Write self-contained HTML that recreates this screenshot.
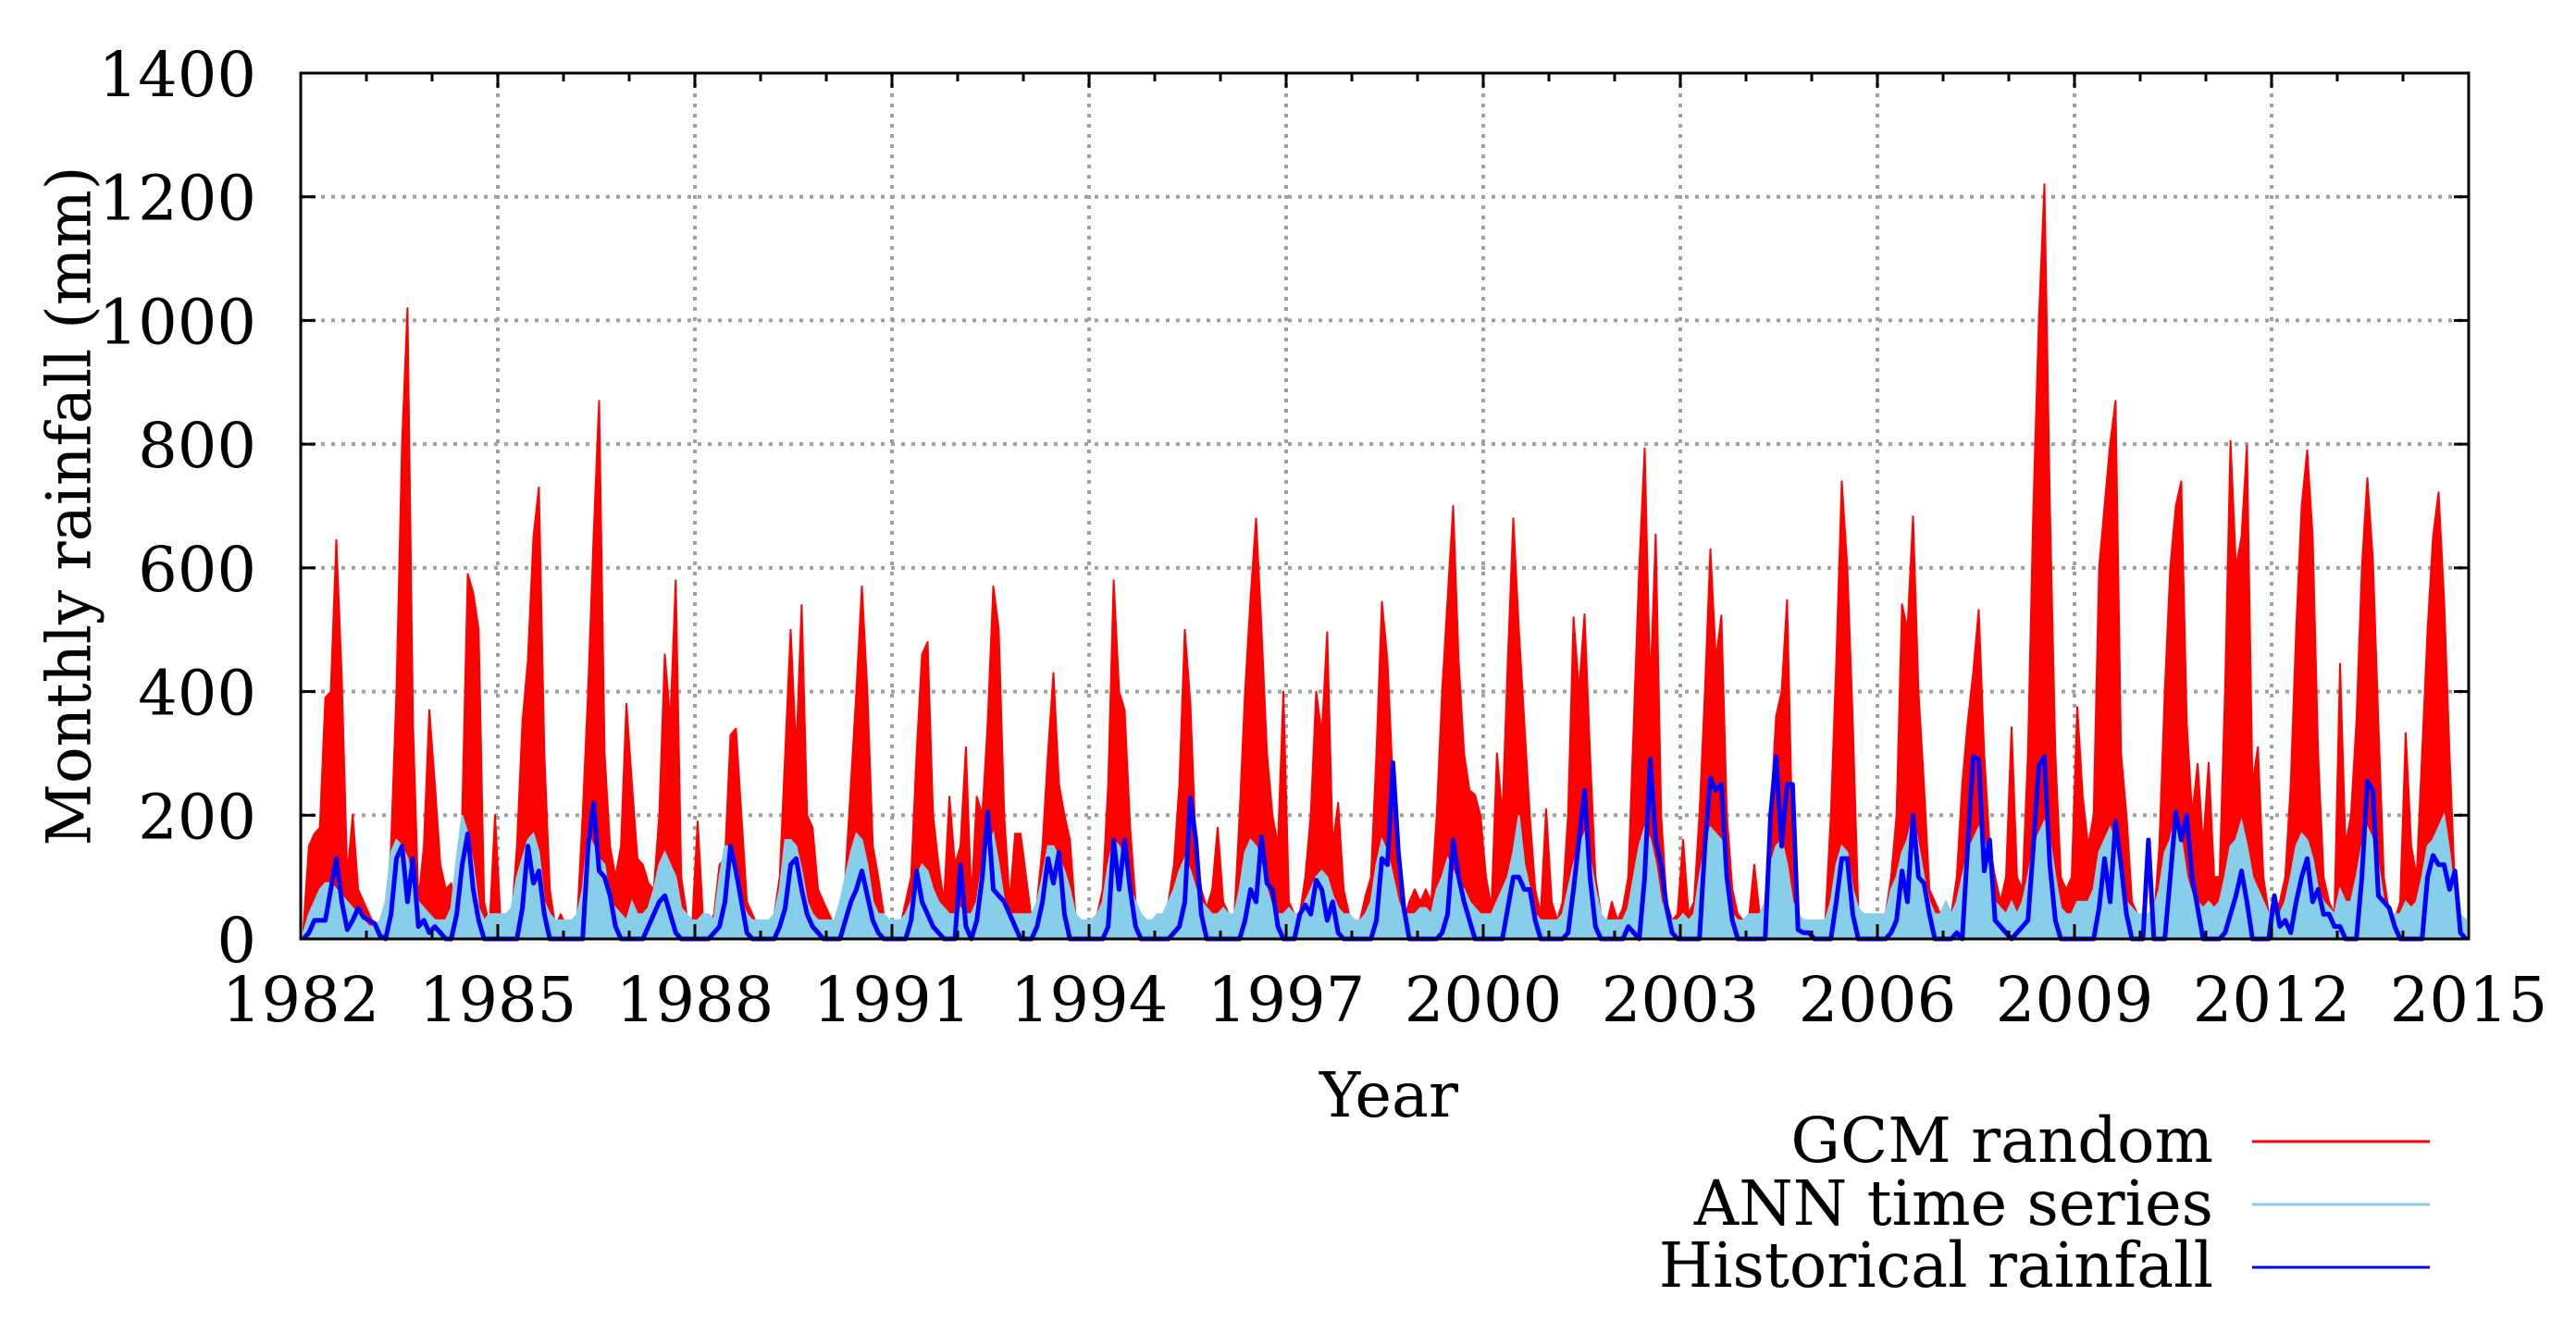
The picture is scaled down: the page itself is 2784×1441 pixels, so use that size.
<!DOCTYPE html>
<html><head><meta charset="utf-8"><style>
html,body{margin:0;padding:0;background:#fff;}
svg{display:block;}
text{font-family:"DejaVu Serif","Liberation Serif",serif;fill:#000;}
</style></head><body>
<svg id="chart" xmlns="http://www.w3.org/2000/svg" width="2784" height="1441" viewBox="0 0 2784 1441">
<rect x="0" y="0" width="2784" height="1441" fill="#fff"/>
<g id="grid"></g>
<g id="series"></g>
<g id="axes"></g>
<text x="75" y="547" font-size="66" text-anchor="middle" dominant-baseline="central" transform="rotate(-90 75 547)" textLength="735" lengthAdjust="spacingAndGlyphs">Monthly rainfall (mm)</text>
<text x="1501" y="1207" font-size="67" text-anchor="middle">Year</text>
<g>
<text x="2392" y="1256" font-size="67" text-anchor="end">GCM random</text>
<line x1="2434" y1="1234" x2="2626" y2="1234" stroke="#ff0000" stroke-width="3"/>
<text x="2392" y="1324" font-size="67" text-anchor="end">ANN time series</text>
<line x1="2434" y1="1302" x2="2626" y2="1302" stroke="#87ceeb" stroke-width="3"/>
<text x="2392" y="1391" font-size="67" text-anchor="end">Historical rainfall</text>
<line x1="2434" y1="1370" x2="2626" y2="1370" stroke="#0000ff" stroke-width="3"/>
</g>
</svg>
<script>
const startYear = 1982;
const yTicks = [0,200,400,600,800,1000,1200,1400];
const xTickYears = [1982,1985,1988,1991,1994,1997,2000,2003,2006,2009,2012,2015];
const gcmRandom = [
20,150,170,180,390,400,645,420,100,200,80,60,
40,20,10,30,150,400,800,1020,350,60,150,370,
250,120,80,90,20,200,590,560,500,60,20,200,
30,20,30,150,350,450,650,730,300,80,20,40,
20,10,30,200,400,650,870,300,150,100,150,380,
250,130,120,90,80,200,460,350,580,100,40,20,
190,30,20,40,120,130,330,340,200,60,40,20,
30,20,40,100,300,500,300,540,200,180,80,60,
40,20,30,100,250,400,570,400,150,100,40,20,
20,20,60,100,300,460,480,200,120,60,230,120,
150,310,60,230,200,350,570,500,200,60,170,170,
100,30,60,150,300,430,250,200,160,40,30,20,
30,40,80,250,580,400,370,180,60,20,30,20,
40,30,60,120,250,500,380,150,80,50,80,180,
60,40,30,200,400,550,680,500,300,200,150,400,
60,40,40,100,200,400,330,496,150,220,80,40,
20,30,70,100,300,545,450,250,100,30,60,80,
60,80,60,200,400,550,700,450,300,240,233,200,
100,50,300,200,450,680,500,350,200,80,40,210,
60,30,60,200,520,400,525,300,100,40,20,60,
30,50,100,350,600,793,400,654,200,60,30,40,
160,40,60,200,400,630,450,523,200,80,40,30,
30,120,40,60,200,360,400,548,150,40,20,20,
20,10,30,200,450,740,600,350,50,30,40,20,
30,40,100,200,541,500,683,400,250,80,60,40,
60,40,100,250,350,430,532,300,150,100,60,100,
342,100,80,300,700,1000,1220,700,300,100,80,100,
375,230,150,200,600,700,800,870,300,200,60,40,
30,20,30,150,400,600,700,740,350,200,283,150,
285,100,100,400,805,600,650,797,250,310,100,40,
40,60,100,250,500,700,790,650,300,100,60,40,
445,150,200,350,600,745,613,350,100,40,30,60,
333,150,100,300,500,650,722,550,300,80,30,20
];
const annSeries = [
10,40,60,80,90,90,80,70,60,50,40,30,
20,20,30,60,140,160,150,130,90,60,50,40,
30,30,30,50,130,200,170,120,50,30,40,40,
40,40,50,100,130,160,170,140,60,40,30,30,
30,30,40,80,170,150,130,120,60,50,40,30,
60,40,40,50,80,120,140,120,100,50,40,30,
30,40,40,30,100,150,150,120,60,40,30,30,
30,30,40,80,160,160,150,110,60,40,30,30,
30,30,60,100,140,170,160,120,60,40,40,30,
30,30,40,60,100,120,110,80,60,50,40,40,
50,40,40,60,120,150,170,120,60,40,40,40,
40,40,60,100,150,150,130,110,80,40,30,30,
30,40,60,120,160,150,120,80,60,40,30,30,
40,40,60,80,110,130,110,80,60,50,40,40,
50,40,40,80,140,160,150,120,80,50,40,40,
50,40,40,60,80,100,110,100,70,50,40,40,
30,30,40,60,120,160,140,100,60,40,40,40,
50,50,40,80,100,130,110,90,80,60,50,40,
40,40,60,80,100,140,200,120,80,40,30,30,
30,30,40,80,120,150,170,130,80,40,30,30,
30,30,50,100,150,180,160,120,60,40,30,30,
40,30,40,100,150,180,170,160,80,40,30,30,
40,40,40,60,120,150,160,120,60,40,30,30,
30,30,30,60,120,150,140,80,50,40,40,40,
40,40,80,100,140,160,200,150,100,60,40,40,
60,40,60,100,140,160,180,160,100,60,50,40,
60,40,60,100,150,170,190,160,100,50,40,40,
60,60,60,80,140,160,180,150,100,60,50,40,
40,40,50,80,140,160,200,160,100,70,60,50,
60,50,60,100,150,160,190,150,100,80,60,40,
40,40,60,100,150,170,160,130,80,60,50,40,
80,60,60,100,150,180,160,120,60,40,40,40,
60,50,60,100,150,160,180,200,140,60,40,30
];
const historical = [
0,10,30,30,30,80,130,60,15,30,50,35,
30,25,5,0,40,130,150,60,130,20,30,10,
20,10,0,0,40,120,170,80,30,0,0,0,
0,0,0,0,50,150,90,110,40,0,0,0,
0,0,0,0,150,220,110,100,70,20,0,0,
0,0,0,20,40,60,70,40,10,0,0,0,
0,0,0,10,20,60,150,110,60,10,0,0,
0,0,0,20,50,120,130,80,40,20,10,0,
0,0,0,30,60,80,110,70,30,10,0,0,
0,0,0,30,110,60,40,20,10,0,0,0,
120,20,0,30,100,205,80,70,60,40,20,0,
0,0,20,60,130,90,140,40,0,0,0,0,
0,0,0,20,160,80,160,80,20,0,0,0,
0,0,0,10,20,60,228,160,40,0,0,0,
0,0,0,0,30,80,60,165,90,80,20,0,
0,0,40,55,40,95,80,30,60,10,0,0,
0,0,0,0,30,130,120,285,140,50,0,0,
0,0,0,0,10,40,160,100,60,30,0,0,
0,0,0,0,50,100,100,80,80,30,0,0,
0,0,0,10,80,160,240,100,20,0,0,0,
0,0,20,10,0,100,290,160,120,50,10,0,
0,0,0,0,150,260,240,250,100,30,0,0,
0,0,0,0,200,295,150,250,250,15,10,10,
0,0,0,0,60,130,130,40,0,0,0,0,
0,0,10,30,110,60,200,100,90,40,0,0,
0,0,10,0,150,295,290,110,160,30,20,10,
0,10,20,30,150,280,295,120,30,0,0,0,
0,0,0,0,50,130,60,190,120,40,0,0,
0,160,0,0,0,100,205,160,200,100,50,0,
0,0,0,10,40,70,110,60,0,0,0,0,
70,20,30,10,60,100,130,60,80,40,40,20,
20,0,0,0,100,255,240,70,60,50,20,0,
0,0,0,0,100,135,120,120,80,110,10,0
];

const NS='http://www.w3.org/2000/svg';
const L=325,R=2668,T=79,B=1015;
const xMin=1982,xMax=2015,yMax=1400;
function xs(v){return L+(v-xMin)/(xMax-xMin)*(R-L);}
function ys(v){return B-v/yMax*(B-T);}
function mk(tag,attrs,parent){const e=document.createElementNS(NS,tag);for(const k in attrs)e.setAttribute(k,attrs[k]);parent.appendChild(e);return e;}
const grid=document.getElementById('grid');
const series=document.getElementById('series');
const axes=document.getElementById('axes');

yTicks.forEach(v=>{
  if(v>0&&v<yMax){
    const g=mk('line',{x1:L,x2:R,y1:ys(v),y2:ys(v),stroke:'#a0a0a0','stroke-width':4,'stroke-dasharray':'4 7'},grid);
    
    
  }
  const t=mk('text',{x:277,y:ys(v)+25,'font-size':67,'text-anchor':'end'},axes);
  t.textContent=v;
  
  
  const a=mk('line',{x1:L,x2:L+16,y1:ys(v),y2:ys(v),stroke:'#000','stroke-width':3},axes);
  
  
  const b=mk('line',{x1:R-16,x2:R,y1:ys(v),y2:ys(v),stroke:'#000','stroke-width':3},axes);
  
  
});
xTickYears.forEach(yr=>{
  if(yr>xMin&&yr<xMax){
    const g=mk('line',{x1:xs(yr),x2:xs(yr),y1:T,y2:B,stroke:'#a0a0a0','stroke-width':4,'stroke-dasharray':'4 7'},grid);
    
    
  }
  const t=mk('text',{x:xs(yr),y:1104,'font-size':67,'text-anchor':'middle'},axes);
  t.textContent=yr;
  
  
});
for(let yr=xMin;yr<=xMax;yr++){
  const major=xTickYears.indexOf(yr)>=0;
  const len=major?16:9;
  const a=mk('line',{x1:xs(yr),x2:xs(yr),y1:B,y2:B-len,stroke:'#000','stroke-width':3},axes);
  
  
  const b=mk('line',{x1:xs(yr),x2:xs(yr),y1:T,y2:T+len,stroke:'#000','stroke-width':3},axes);
  
  
}

function monthX(i){return xs(startYear+(i+0.5)/12);}
function areaPath(arr){
  let d='M'+monthX(0).toFixed(1)+','+B;
  arr.forEach((v,i)=>{d+=' L'+monthX(i).toFixed(1)+','+ys(v).toFixed(1);});
  d+=' L'+monthX(arr.length-1).toFixed(1)+','+B+' Z';
  return d;
}
function linePath(arr){
  return arr.map((v,i)=>(i?'L':'M')+monthX(i).toFixed(1)+','+ys(v).toFixed(1)).join(' ');
}
const gcm=mk('path',{d:areaPath(gcmRandom),fill:'#ff0000',stroke:'#ff0000','stroke-width':2,'stroke-linejoin':'round'},series);


const ann=mk('path',{d:areaPath(annSeries),fill:'#87ceeb',stroke:'#87ceeb','stroke-width':2},series);


const hist=mk('path',{d:linePath(historical),fill:'none',stroke:'#0000ff','stroke-width':5,'stroke-linejoin':'round'},series);



const frame=mk('rect',{x:L,y:T,width:R-L,height:B-T,fill:'none',stroke:'#000','stroke-width':3},axes);


</script>
</body></html>
